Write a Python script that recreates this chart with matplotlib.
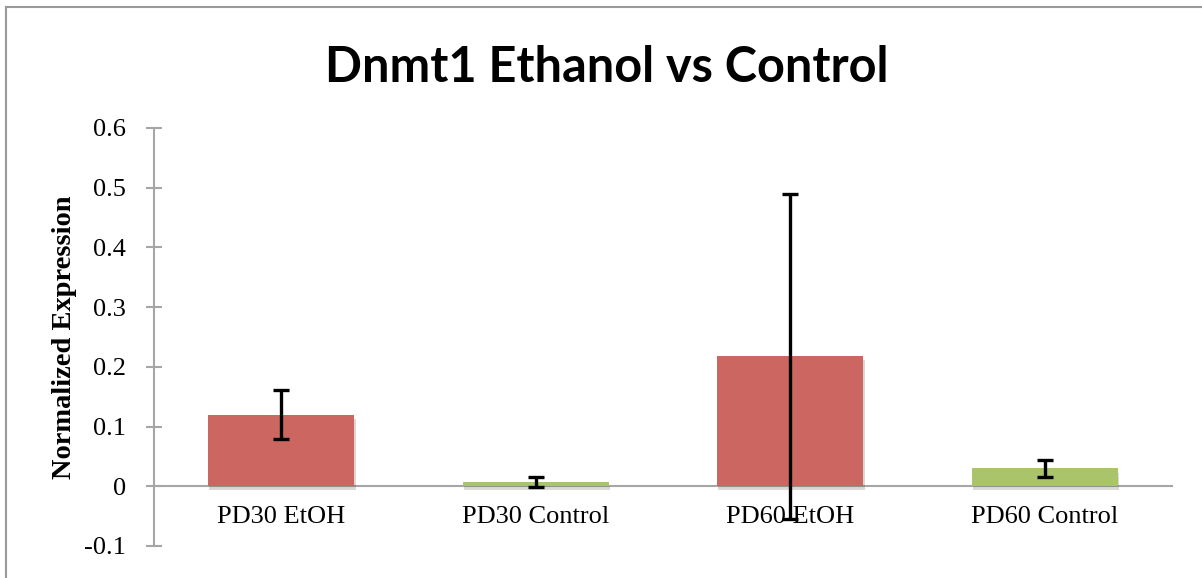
import numpy as np
import matplotlib.pyplot as plt
import matplotlib.patheffects as pe
from matplotlib.lines import Line2D

categories = ['PD30 EtOH', 'PD30 Control', 'PD60 EtOH', 'PD60 Control']
values = [0.12, 0.007, 0.218, 0.030]
errors = [0.041, 0.008, 0.272, 0.014]
colors = ['#CC6660', '#A9C46B', '#CC6660', '#A9C46B']
yticks = [-0.1, 0, 0.1, 0.2, 0.3, 0.4, 0.5, 0.6]
ytick_labels = ['-0.1', '0', '0.1', '0.2', '0.3', '0.4', '0.5', '0.6']

W, H = 1202, 578
fig = plt.figure(figsize=(W/100, H/100), dpi=100)
ax = fig.add_axes([154/W, 1-546/H, (1172-154)/W, (546-128)/H])

for s in ['top', 'right']:
    ax.spines[s].set_visible(False)
ax.spines['bottom'].set_position(('data', 0))
ax.spines['bottom'].set_color('#A6A6A6')
ax.spines['bottom'].set_linewidth(1.5)
ax.spines['bottom'].set_zorder(1)
ax.spines['left'].set_color('#A6A6A6')
ax.spines['left'].set_linewidth(1.5)

x = np.arange(len(categories))
bars = ax.bar(x, values, width=0.575, color=colors, zorder=2)
for b in bars:
    b.set_path_effects([pe.SimplePatchShadow(offset=(1, -3), alpha=0.18), pe.Normal()])
ax.errorbar(x, values, yerr=errors, fmt='none', ecolor='black',
            elinewidth=2.4, capsize=6, capthick=2.4, zorder=3)

ax.set_xlim(-0.5, 3.5)
ax.set_ylim(-0.1, 0.6)
ax.set_yticks(yticks)
ax.set_yticklabels(ytick_labels)
ax.set_xticks(x)
ax.set_xticklabels(categories)
ax.tick_params(labelfontfamily='Liberation Serif', labelsize=19)
ax.tick_params(axis='x', length=0, pad=14)
ax.tick_params(axis='y', direction='inout', length=12, width=1.5, color='#A6A6A6', pad=14)

ax.set_ylabel('Normalized Expression', fontfamily='Liberation Serif', fontweight='bold',
              fontsize=20.5, labelpad=5)
fig.text(607/W, 1-67/H, 'Dnmt1 Ethanol vs Control', ha='center', va='center',
         fontfamily='Lato', fontweight='bold', fontsize=35)

# outer chart frame (top and left edges visible)
fig.add_artist(Line2D([6/W, 1], [1-7/H, 1-7/H], color='#999999', lw=1.5, transform=fig.transFigure))
fig.add_artist(Line2D([6/W, 6/W], [0, 1-7/H], color='#999999', lw=1.5, transform=fig.transFigure))

fig.savefig('out.png', dpi=100)
